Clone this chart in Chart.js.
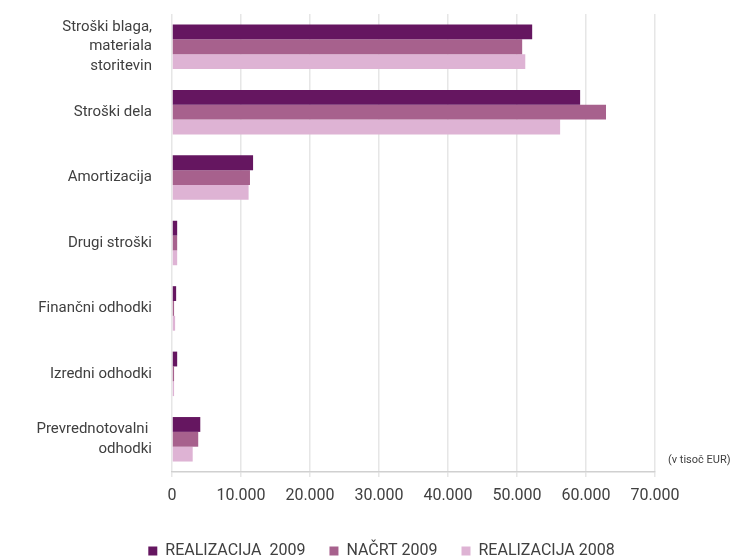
<!DOCTYPE html>
<html>
<head>
<meta charset="utf-8">
<script src="https://cdn.jsdelivr.net/npm/chart.js"></script>
<style>
  body { margin: 0; background: #fff; }
  #wrap { width: 732px; height: 560px; }
</style>
</head>
<body>
<div id="wrap"><canvas id="chart-container"></canvas></div>
<script>
// categories and values (v tisoč EUR)
var categories = [
    ['Stroški blaga,', 'materiala', 'storitevin'],
    'Stroški dela',
    'Amortizacija',
    'Drugi stroški',
    'Finančni odhodki',
    'Izredni odhodki',
    ['Prevrednotovalni ', 'odhodki']
];
var realizacija2009 = [52200, 59150, 11750, 750, 600, 750, 4100];
var nacrt2009 = [50750, 62900, 11300, 750, 300, 300, 3800];
var realizacija2008 = [51200, 56250, 11100, 750, 450, 300, 3000];
var xTicks = [0, 10000, 20000, 30000, 40000, 50000, 60000, 70000];

var FONT = 'Roboto, "Liberation Sans Narrow", sans-serif';
var TEXT = '#404040';

// unit note to the right of the axis end
var unitNote = {
    id: 'unitNote',
    afterLayout: function (chart) {
        // legend sits centred under the whole page, not only the plot
        var lg = chart.legend;
        lg.left += 54; lg.right += 54;
        lg.top += 3; lg.bottom += 3;
    },
    afterDraw: function (chart) {
        var c = chart.ctx;
        var a = chart.chartArea;
        c.save();
        c.font = '11px ' + FONT;
        c.fillStyle = TEXT;
        c.textAlign = 'left';
        c.textBaseline = 'middle';
        c.fillText('(v tisoč EUR)', a.right + 13, a.bottom - 12);
        c.restore();
    }
};

var ctx = document.getElementById('chart-container').getContext('2d');

var myChart = new Chart(ctx, {
    type: 'bar',
    data: {
        labels: categories,
        datasets: [{
            label: 'REALIZACIJA  2009',
            data: realizacija2009,
            backgroundColor: '#651660'
        }, {
            label: 'NAČRT 2009',
            data: nacrt2009,
            backgroundColor: '#a7618d'
        }, {
            label: 'REALIZACIJA 2008',
            data: realizacija2008,
            backgroundColor: '#deb3d4'
        }]
    },
    options: {
        indexAxis: 'y',
        responsive: true,
        maintainAspectRatio: false,
        animation: false,
        datasets: {
            bar: { categoryPercentage: 0.68, barPercentage: 1.0 }
        },
        layout: { padding: { top: 14, right: 77, left: 0, bottom: -6 } },
        scales: {
            x: {
                min: 0,
                max: 70000,
                afterBuildTicks: function (scale) {
                    scale.ticks = xTicks.map(function (v) { return { value: v }; });
                },
                afterFit: function (scale) { scale.height = 44; },
                grid: { color: '#e6e6e6', lineWidth: 1.5, tickLength: 5 },
                border: { color: '#d0d0d0', width: 1.5 },
                ticks: {
                    padding: 9,
                    color: TEXT,
                    font: { family: FONT, size: 16 },
                    callback: function (v) {
                        return v.toLocaleString('de-DE');
                    }
                }
            },
            y: {
                afterFit: function (scale) {
                    scale.width = 172;
                    scale.paddingTop = 0;
                    scale.paddingBottom = 0;
                },
                grid: { display: false, drawTicks: false },
                border: { display: false },
                ticks: {
                    autoSkip: false,
                    padding: 20,
                    color: TEXT,
                    font: { family: FONT, size: 15, lineHeight: 1.3 }
                }
            }
        },
        plugins: {
            legend: {
                position: 'bottom',
                labels: {
                    boxWidth: 9,
                    boxHeight: 9,
                    padding: 24,
                    color: TEXT,
                    font: { family: FONT, size: 16 }
                }
            },
            tooltip: { enabled: false }
        }
    },
    plugins: [unitNote]
});
</script>
</body>
</html>
